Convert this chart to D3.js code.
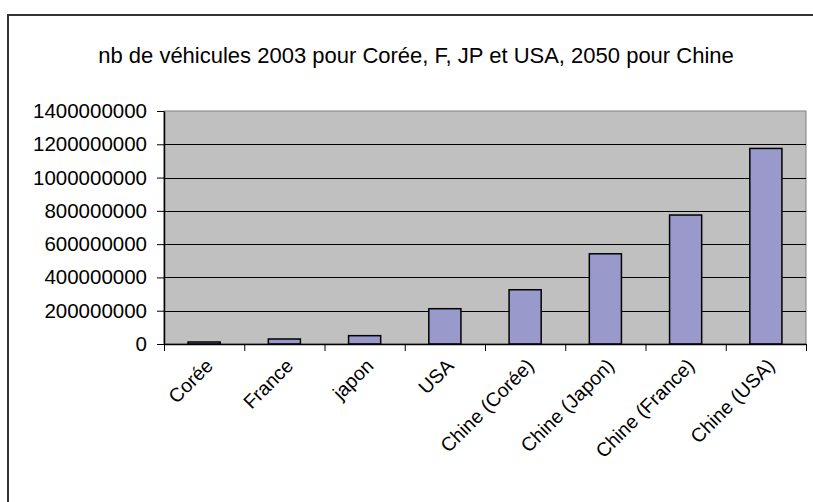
<!DOCTYPE html>
<html>
<head>
<meta charset="utf-8">
<script src="https://cdn.jsdelivr.net/npm/d3@7"></script>
<style>
  html, body { margin: 0; padding: 0; background: #fff; }
  svg { display: block; font-family: "Liberation Sans", Arial, sans-serif; }
</style>
</head>
<body>
<svg id="chart" width="813" height="502"></svg>
<script>
const titleText = "nb de véhicules 2003 pour Corée, F, JP et USA, 2050 pour Chine";
const categories = ["Corée", "France", "japon", "USA", "Chine (Corée)", "Chine (Japon)", "Chine (France)", "Chine (USA)"];
const values = [12000000, 30000000, 50000000, 212000000, 326000000, 542000000, 775000000, 1175000000];
const yTicks = [0, 200000000, 400000000, 600000000, 800000000, 1000000000, 1200000000, 1400000000];

const svg = d3.select("#chart");
const L = 164, R = 806, T = 111, B = 344;

// chart area frame
svg.append("rect").attr("x", 8).attr("y", 15).attr("width", 830).attr("height", 520)
  .attr("fill", "#fff").attr("stroke", "#333").attr("stroke-width", 2);

// title
svg.append("text").attr("x", 416).attr("y", 63).attr("text-anchor", "middle")
  .attr("font-size", 22).attr("fill", "#000").text(titleText);

const x = d3.scaleBand().domain(categories).range([L, R]).paddingInner(0.6).paddingOuter(0.3);
const xb = d3.scaleLinear().domain([0, categories.length]).range([L, R]);
const y = d3.scaleLinear().domain([0, 1400000000]).range([B, T]);

// plot area
svg.append("rect").attr("x", L).attr("y", T).attr("width", R - L).attr("height", B - T)
  .attr("fill", "#C0C0C0").attr("stroke", "#808080").attr("stroke-width", 1);

// gridlines
svg.append("g").selectAll("line").data(yTicks.filter(v => v > 0 && v < 1400000000)).join("line")
  .attr("x1", L).attr("x2", R).attr("y1", d => Math.round(y(d)) + 0.5).attr("y2", d => Math.round(y(d)) + 0.5)
  .attr("stroke", "#000").attr("stroke-width", 1);

// bars
svg.append("g").selectAll("rect").data(values).join("rect")
  .attr("x", (d, i) => x(categories[i]))
  .attr("y", d => y(d))
  .attr("width", x.bandwidth())
  .attr("height", d => B - y(d))
  .attr("fill", "#9999CC").attr("stroke", "#000").attr("stroke-width", 1.5);

// y axis
const yAxis = d3.axisLeft(y).tickValues(yTicks).tickFormat(d3.format("d")).tickSizeOuter(0).tickSizeInner(7).tickPadding(10);
const gy = svg.append("g").attr("transform", `translate(${L},0)`).call(yAxis);
gy.select(".domain").attr("stroke", "#000").attr("stroke-width", 1.5);
gy.selectAll(".tick line").attr("stroke", "#000");
gy.selectAll(".tick text").attr("font-size", 20.5).attr("font-family", "Liberation Sans, Arial, sans-serif").attr("fill", "#000");

// x axis with ticks at category boundaries
const xAxis = d3.axisBottom(xb).tickValues(d3.range(0, categories.length + 1)).tickFormat("").tickSizeOuter(0).tickSizeInner(7);
const gx = svg.append("g").attr("transform", `translate(0,${B})`).call(xAxis);
gx.select(".domain").attr("stroke", "#000").attr("stroke-width", 1.5);
gx.selectAll(".tick line").attr("stroke", "#000");

// category labels
svg.append("g").selectAll("text").data(categories).join("text")
  .attr("transform", d => `translate(${x(d) + x.bandwidth() / 2 + 10},${B + 23}) rotate(-45)`)
  .attr("text-anchor", "end")
  .attr("font-size", 19.5).attr("fill", "#000").text(d => d);
</script>
</body>
</html>
